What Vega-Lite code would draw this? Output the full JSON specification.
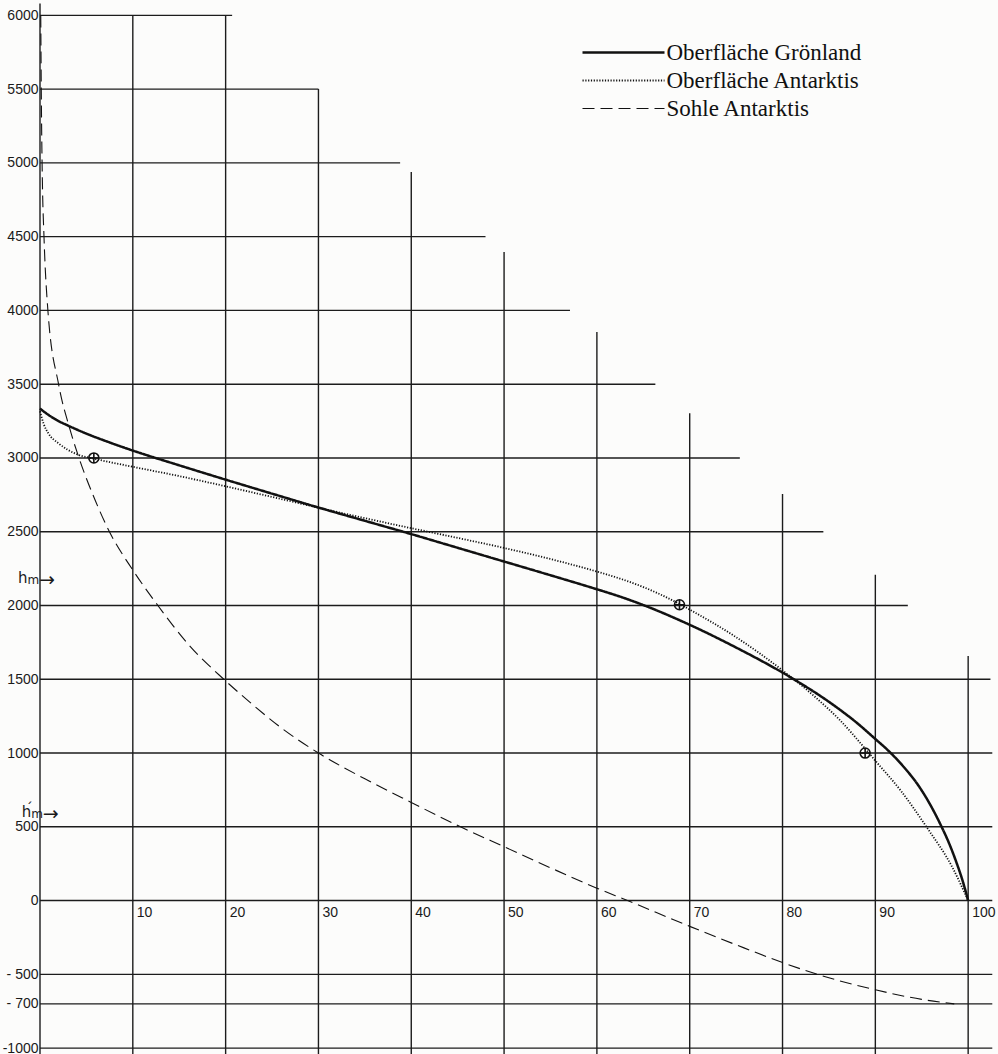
{
  "$schema": "https://vega.github.io/schema/vega-lite/v6.json",
  "width": 956,
  "height": 1054,
  "autosize": {"type": "none"},
  "padding": {"left": 40, "top": 0, "right": 2, "bottom": 0},
  "background": "#fcfcfb",
  "config": {
    "view": {"stroke": null},
    "font": "Liberation Sans",
    "axisY": {
      "format": "d",
      "labelExpr": "datum.value < -900 ? '-1000' : datum.value < 0 ? '- ' + abs(datum.value) : '' + datum.value",
      "title": null, "domain": false, "ticks": false, "grid": false,
      "labelPadding": 2, "labelFont": "Liberation Sans", "labelFontSize": 14,
      "labelColor": "#1a1a1a", "labelFlush": false, "labelOverlap": false, "labelBound": false
    }
  },
  "datasets": {
    "hgrid": [
      {"y": 6000, "xe": 20.7}, {"y": 5500, "xe": 30}, {"y": 5000, "xe": 38.8}, {"y": 4500, "xe": 48},
      {"y": 4000, "xe": 57.1}, {"y": 3500, "xe": 66.3}, {"y": 3000, "xe": 75.4}, {"y": 2500, "xe": 84.4},
      {"y": 2000, "xe": 93.5}, {"y": 1500, "xe": 102.4}, {"y": 1000, "xe": 102.6}, {"y": 500, "xe": 102.6},
      {"y": 0, "xe": 102.6}, {"y": -500, "xe": 102.6}, {"y": -700, "xe": 102.6}, {"y": -1000, "xe": 102.6}
    ],
    "vgrid": [
      {"x": 0, "ye": 6080}, {"x": 10, "ye": 6000}, {"x": 20, "ye": 6000}, {"x": 30, "ye": 5500},
      {"x": 40, "ye": 4938}, {"x": 50, "ye": 4396}, {"x": 60, "ye": 3854}, {"x": 70, "ye": 3303},
      {"x": 80, "ye": 2756}, {"x": 90, "ye": 2209}, {"x": 100, "ye": 1658}
    ],
    "curves": [
      {"series": "Oberfläche Grönland", "x": 0, "y": 3335},
      {"series": "Oberfläche Grönland", "x": 1, "y": 3288},
      {"series": "Oberfläche Grönland", "x": 2, "y": 3250},
      {"series": "Oberfläche Grönland", "x": 3, "y": 3220},
      {"series": "Oberfläche Grönland", "x": 5, "y": 3165},
      {"series": "Oberfläche Grönland", "x": 7.5, "y": 3105},
      {"series": "Oberfläche Grönland", "x": 10, "y": 3050},
      {"series": "Oberfläche Grönland", "x": 15, "y": 2950},
      {"series": "Oberfläche Grönland", "x": 20, "y": 2853},
      {"series": "Oberfläche Grönland", "x": 25, "y": 2758},
      {"series": "Oberfläche Grönland", "x": 30, "y": 2664},
      {"series": "Oberfläche Grönland", "x": 35, "y": 2574},
      {"series": "Oberfläche Grönland", "x": 40, "y": 2484},
      {"series": "Oberfläche Grönland", "x": 45, "y": 2391},
      {"series": "Oberfläche Grönland", "x": 50, "y": 2298},
      {"series": "Oberfläche Grönland", "x": 55, "y": 2205},
      {"series": "Oberfläche Grönland", "x": 60, "y": 2110},
      {"series": "Oberfläche Grönland", "x": 62.5, "y": 2060},
      {"series": "Oberfläche Grönland", "x": 65, "y": 2003},
      {"series": "Oberfläche Grönland", "x": 70, "y": 1869},
      {"series": "Oberfläche Grönland", "x": 75, "y": 1715},
      {"series": "Oberfläche Grönland", "x": 80, "y": 1545},
      {"series": "Oberfläche Grönland", "x": 82, "y": 1470},
      {"series": "Oberfläche Grönland", "x": 84, "y": 1390},
      {"series": "Oberfläche Grönland", "x": 86, "y": 1302},
      {"series": "Oberfläche Grönland", "x": 88, "y": 1205},
      {"series": "Oberfläche Grönland", "x": 90, "y": 1095},
      {"series": "Oberfläche Grönland", "x": 91.5, "y": 1010},
      {"series": "Oberfläche Grönland", "x": 93, "y": 910},
      {"series": "Oberfläche Grönland", "x": 94.8, "y": 765},
      {"series": "Oberfläche Grönland", "x": 96, "y": 640},
      {"series": "Oberfläche Grönland", "x": 97.1, "y": 505},
      {"series": "Oberfläche Grönland", "x": 98, "y": 380},
      {"series": "Oberfläche Grönland", "x": 98.7, "y": 265},
      {"series": "Oberfläche Grönland", "x": 99.4, "y": 135},
      {"series": "Oberfläche Grönland", "x": 100, "y": 0},
      {"series": "Oberfläche Antarktis", "x": 0, "y": 3316},
      {"series": "Oberfläche Antarktis", "x": 0.4, "y": 3230},
      {"series": "Oberfläche Antarktis", "x": 0.9, "y": 3167},
      {"series": "Oberfläche Antarktis", "x": 2, "y": 3099},
      {"series": "Oberfläche Antarktis", "x": 3, "y": 3055},
      {"series": "Oberfläche Antarktis", "x": 4.1, "y": 3022},
      {"series": "Oberfläche Antarktis", "x": 5.8, "y": 2995},
      {"series": "Oberfläche Antarktis", "x": 7.5, "y": 2972},
      {"series": "Oberfläche Antarktis", "x": 10, "y": 2940},
      {"series": "Oberfläche Antarktis", "x": 15, "y": 2877},
      {"series": "Oberfläche Antarktis", "x": 20, "y": 2808},
      {"series": "Oberfläche Antarktis", "x": 25, "y": 2736},
      {"series": "Oberfläche Antarktis", "x": 30, "y": 2663},
      {"series": "Oberfläche Antarktis", "x": 35, "y": 2592},
      {"series": "Oberfläche Antarktis", "x": 40, "y": 2524},
      {"series": "Oberfläche Antarktis", "x": 45, "y": 2458},
      {"series": "Oberfläche Antarktis", "x": 50, "y": 2390},
      {"series": "Oberfläche Antarktis", "x": 55, "y": 2315},
      {"series": "Oberfläche Antarktis", "x": 60, "y": 2230},
      {"series": "Oberfläche Antarktis", "x": 62.5, "y": 2182},
      {"series": "Oberfläche Antarktis", "x": 65, "y": 2125},
      {"series": "Oberfläche Antarktis", "x": 68.9, "y": 2010},
      {"series": "Oberfläche Antarktis", "x": 70, "y": 1972},
      {"series": "Oberfläche Antarktis", "x": 75, "y": 1785},
      {"series": "Oberfläche Antarktis", "x": 80, "y": 1560},
      {"series": "Oberfläche Antarktis", "x": 83.6, "y": 1375},
      {"series": "Oberfläche Antarktis", "x": 86.1, "y": 1228},
      {"series": "Oberfläche Antarktis", "x": 89.3, "y": 1000},
      {"series": "Oberfläche Antarktis", "x": 90, "y": 948},
      {"series": "Oberfläche Antarktis", "x": 92.8, "y": 740},
      {"series": "Oberfläche Antarktis", "x": 95.5, "y": 500},
      {"series": "Oberfläche Antarktis", "x": 98.3, "y": 225},
      {"series": "Oberfläche Antarktis", "x": 100, "y": 0},
      {"series": "Sohle Antarktis", "x": 0.08, "y": 6000},
      {"series": "Sohle Antarktis", "x": 0.15, "y": 5400},
      {"series": "Sohle Antarktis", "x": 0.25, "y": 4900},
      {"series": "Sohle Antarktis", "x": 0.43, "y": 4500},
      {"series": "Sohle Antarktis", "x": 0.85, "y": 4000},
      {"series": "Sohle Antarktis", "x": 2, "y": 3500},
      {"series": "Sohle Antarktis", "x": 3.2, "y": 3200},
      {"series": "Sohle Antarktis", "x": 4.2, "y": 3000},
      {"series": "Sohle Antarktis", "x": 5.9, "y": 2720},
      {"series": "Sohle Antarktis", "x": 7.4, "y": 2510},
      {"series": "Sohle Antarktis", "x": 10, "y": 2240},
      {"series": "Sohle Antarktis", "x": 12.7, "y": 2000},
      {"series": "Sohle Antarktis", "x": 16, "y": 1735},
      {"series": "Sohle Antarktis", "x": 19.8, "y": 1500},
      {"series": "Sohle Antarktis", "x": 22.6, "y": 1345},
      {"series": "Sohle Antarktis", "x": 26, "y": 1170},
      {"series": "Sohle Antarktis", "x": 30, "y": 1000},
      {"series": "Sohle Antarktis", "x": 35, "y": 825},
      {"series": "Sohle Antarktis", "x": 40, "y": 665},
      {"series": "Sohle Antarktis", "x": 45.3, "y": 500},
      {"series": "Sohle Antarktis", "x": 50, "y": 365},
      {"series": "Sohle Antarktis", "x": 55, "y": 222},
      {"series": "Sohle Antarktis", "x": 60, "y": 84},
      {"series": "Sohle Antarktis", "x": 63.3, "y": 0},
      {"series": "Sohle Antarktis", "x": 70, "y": -175},
      {"series": "Sohle Antarktis", "x": 75, "y": -300},
      {"series": "Sohle Antarktis", "x": 80, "y": -420},
      {"series": "Sohle Antarktis", "x": 83.5, "y": -495},
      {"series": "Sohle Antarktis", "x": 90, "y": -605},
      {"series": "Sohle Antarktis", "x": 95, "y": -670},
      {"series": "Sohle Antarktis", "x": 98.5, "y": -700}
    ],
    "markers": [
      {"x": 5.8, "y": 3000}, {"x": 68.9, "y": 2005}, {"x": 88.9, "y": 1000}
    ],
    "xlabels": [
      {"x": 10, "label": "10"}, {"x": 20, "label": "20"}, {"x": 30, "label": "30"}, {"x": 40, "label": "40"},
      {"x": 50, "label": "50"}, {"x": 60, "label": "60"}, {"x": 70, "label": "70"}, {"x": 80, "label": "80"},
      {"x": 90, "label": "90"}, {"x": 100, "label": "100"}
    ],
    "hlabels": [
      {"x": -2.37, "y": 2151, "main": "h", "acc": "", "sub": "m", "arrow": "→"},
      {"x": -1.97, "y": 566, "main": "h", "acc": "´", "sub": "m", "arrow": "→"}
    ]
  },
  "layer": [
    {
      "data": {"name": "hgrid"},
      "mark": {"type": "rule", "stroke": "#1c1c1c", "strokeWidth": 1.4},
      "encoding": {
        "y": {"field": "y", "type": "quantitative", "scale": {"domain": [-1040, 6104], "nice": false, "zero": false},
              "axis": {"values": [6000, 5500, 5000, 4500, 4000, 3500, 3000, 2500, 2000, 1500, 1000, 500, 0, -500, -700, -1000]}},
        "x": {"field": "xe", "type": "quantitative", "scale": {"domain": [0, 103], "nice": false, "zero": false}, "axis": null},
        "x2": {"datum": 0}
      }
    },
    {
      "data": {"name": "vgrid"},
      "mark": {"type": "rule", "stroke": "#1c1c1c", "strokeWidth": 1.4},
      "encoding": {
        "x": {"field": "x", "type": "quantitative", "scale": {"domain": [0, 103], "nice": false, "zero": false}, "axis": null},
        "y": {"field": "ye", "type": "quantitative", "scale": {"domain": [-1040, 6104], "nice": false, "zero": false},
              "axis": {"values": [6000, 5500, 5000, 4500, 4000, 3500, 3000, 2500, 2000, 1500, 1000, 500, 0, -500, -700, -1000]}},
        "y2": {"datum": -1040}
      }
    },
    {
      "data": {"name": "curves"},
      "mark": {"type": "line", "interpolate": "monotone", "stroke": "#111"},
      "encoding": {
        "x": {"field": "x", "type": "quantitative", "scale": {"domain": [0, 103], "nice": false, "zero": false}, "axis": null},
        "y": {"field": "y", "type": "quantitative", "scale": {"domain": [-1040, 6104], "nice": false, "zero": false},
              "axis": {"values": [6000, 5500, 5000, 4500, 4000, 3500, 3000, 2500, 2000, 1500, 1000, 500, 0, -500, -700, -1000]}},
        "strokeDash": {
          "field": "series", "type": "nominal",
          "scale": {
            "domain": ["Oberfläche Grönland", "Oberfläche Antarktis", "Sohle Antarktis"],
            "range": [[1, 0], [1.2, 1.6], [12, 6]]
          },
          "legend": {
            "title": null, "orient": "none", "legendX": 572, "legendY": 41,
            "symbolType": "M -8.2 0 L 8.2 0", "symbolSize": 100, "symbolStrokeWidth": 1.5,
            "symbolStrokeColor": "#111", "labelOffset": 31.5, "labelFont": "Liberation Serif",
            "labelFontSize": 23, "labelColor": "#111", "labelLimit": 400, "rowPadding": 4, "padding": 0
          }
        },
        "strokeWidth": {
          "field": "series", "type": "nominal",
          "scale": {
            "domain": ["Oberfläche Grönland", "Oberfläche Antarktis", "Sohle Antarktis"],
            "range": [2.5, 1.1, 2.1]
          },
          "legend": null
        }
      }
    },
    {
      "data": {"name": "markers"},
      "mark": {
        "type": "point", "shape": "M -1 0 A 1 1 0 1 1 1 0 A 1 1 0 1 1 -1 0 Z M -1 0 L 1 0 M 0 -1 L 0 1",
        "size": 100, "filled": false, "stroke": "#111", "strokeWidth": 1.6, "opacity": 1
      },
      "encoding": {
        "x": {"field": "x", "type": "quantitative", "scale": {"domain": [0, 103], "nice": false, "zero": false}, "axis": null},
        "y": {"field": "y", "type": "quantitative", "scale": {"domain": [-1040, 6104], "nice": false, "zero": false},
              "axis": {"values": [6000, 5500, 5000, 4500, 4000, 3500, 3000, 2500, 2000, 1500, 1000, 500, 0, -500, -700, -1000]}}
      }
    },
    {
      "data": {"name": "xlabels"},
      "mark": {"type": "text", "align": "left", "baseline": "top", "dx": 4, "dy": 5, "font": "Liberation Sans", "fontSize": 14, "fill": "#1a1a1a"},
      "encoding": {
        "x": {"field": "x", "type": "quantitative", "scale": {"domain": [0, 103], "nice": false, "zero": false}, "axis": null},
        "y": {"datum": 0, "type": "quantitative", "scale": {"domain": [-1040, 6104], "nice": false, "zero": false},
              "axis": {"values": [6000, 5500, 5000, 4500, 4000, 3500, 3000, 2500, 2000, 1500, 1000, 500, 0, -500, -700, -1000]}},
        "text": {"field": "label"}
      }
    },
    {
      "data": {"name": "hlabels"},
      "mark": {"type": "text", "align": "left", "baseline": "alphabetic", "font": "DejaVu Sans", "fontSize": 15, "fill": "#1a1a1a"},
      "encoding": {
        "x": {"field": "x", "type": "quantitative", "scale": {"domain": [0, 103], "nice": false, "zero": false}, "axis": null},
        "y": {"field": "y", "type": "quantitative", "scale": {"domain": [-1040, 6104], "nice": false, "zero": false},
              "axis": {"values": [6000, 5500, 5000, 4500, 4000, 3500, 3000, 2500, 2000, 1500, 1000, 500, 0, -500, -700, -1000]}},
        "text": {"field": "main"}
      }
    },
    {
      "data": {"name": "hlabels"},
      "mark": {"type": "text", "align": "left", "baseline": "alphabetic", "dx": 4, "dy": -4, "font": "DejaVu Sans", "fontSize": 14, "fill": "#1a1a1a"},
      "encoding": {
        "x": {"field": "x", "type": "quantitative", "scale": {"domain": [0, 103], "nice": false, "zero": false}, "axis": null},
        "y": {"field": "y", "type": "quantitative", "scale": {"domain": [-1040, 6104], "nice": false, "zero": false},
              "axis": {"values": [6000, 5500, 5000, 4500, 4000, 3500, 3000, 2500, 2000, 1500, 1000, 500, 0, -500, -700, -1000]}},
        "text": {"field": "acc"}
      }
    },
    {
      "data": {"name": "hlabels"},
      "mark": {"type": "text", "align": "left", "baseline": "alphabetic", "dx": 9.5, "dy": 1, "font": "DejaVu Sans", "fontSize": 12, "fill": "#1a1a1a"},
      "encoding": {
        "x": {"field": "x", "type": "quantitative", "scale": {"domain": [0, 103], "nice": false, "zero": false}, "axis": null},
        "y": {"field": "y", "type": "quantitative", "scale": {"domain": [-1040, 6104], "nice": false, "zero": false},
              "axis": {"values": [6000, 5500, 5000, 4500, 4000, 3500, 3000, 2500, 2000, 1500, 1000, 500, 0, -500, -700, -1000]}},
        "text": {"field": "sub"}
      }
    },
    {
      "data": {"name": "hlabels"},
      "mark": {"type": "text", "align": "left", "baseline": "alphabetic", "dx": 21, "dy": 3, "font": "DejaVu Sans", "fontSize": 19, "fill": "#1a1a1a"},
      "encoding": {
        "x": {"field": "x", "type": "quantitative", "scale": {"domain": [0, 103], "nice": false, "zero": false}, "axis": null},
        "y": {"field": "y", "type": "quantitative", "scale": {"domain": [-1040, 6104], "nice": false, "zero": false},
              "axis": {"values": [6000, 5500, 5000, 4500, 4000, 3500, 3000, 2500, 2000, 1500, 1000, 500, 0, -500, -700, -1000]}},
        "text": {"field": "arrow"}
      }
    }
  ]
}
